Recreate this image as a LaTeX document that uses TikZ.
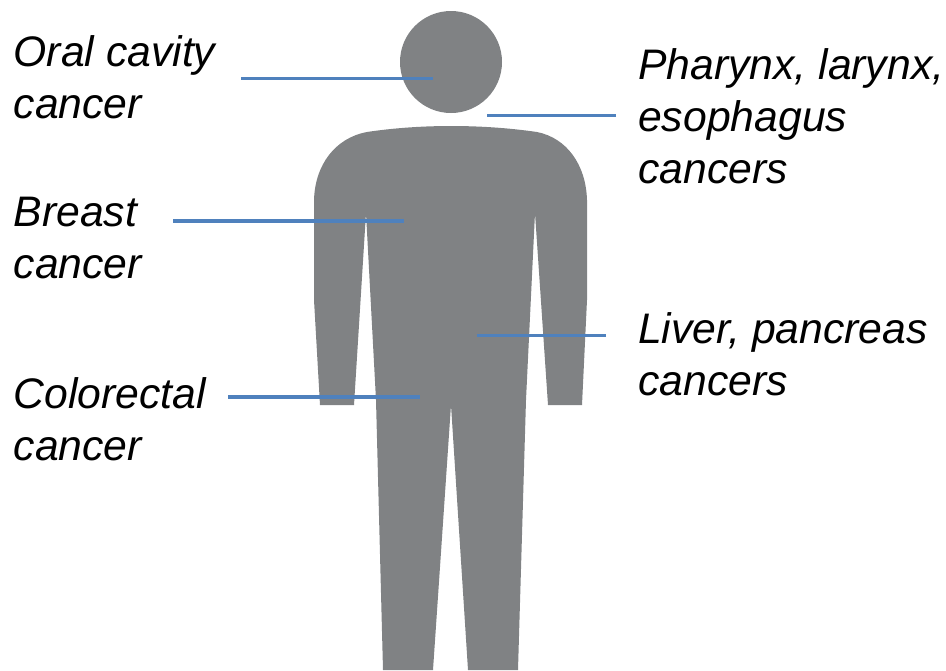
\documentclass[tikz,border=0pt]{standalone}
\usepackage{fontspec}
\setmainfont{Liberation Sans}
\definecolor{body}{RGB}{128,130,132}
\definecolor{leadc}{RGB}{79,129,189}
\tikzset{lbl/.style={font=\fontsize{42.7pt}{52pt}\selectfont\itshape,align=left,anchor=north west,inner sep=0pt,text=black},
lead/.style={draw=leadc,line width=3.6pt}}
\begin{document}
\begin{tikzpicture}[x=1pt,y=-1pt]
\useasboundingbox (0,0) rectangle (946,670);
\fill[body] (451,62) circle (51);
\fill[body] (383,670) -- (376,400) -- (366,213) -- (354,405) -- (320,405) -- (314,300) -- (314,200)
 .. controls (315,165) and (335,138) .. (367,132)
 .. controls (420,124) and (482,124) .. (537,132)
 .. controls (567,138) and (586,165) .. (587,200)
 -- (587,300) -- (582,405) -- (548,405) -- (535,213) -- (526,400) -- (518,670) -- (468,670) -- (451,405) -- (433,670) -- cycle;
\node[lbl] (a) at (13.5,35) {Oral cavity\\cancer};
\node[lbl] (b) at (13.5,197) {Breast\\cancer};
\node[lbl] (c) at (13.5,377) {Colorectal\\cancer};
\node[lbl] (d) at (638,48) {Pharynx, larynx,\\esophagus\\cancers};
\node[lbl] (e) at (638,312) {Liver, pancreas\\cancers};
\coordinate (a1) at (241,78.5); \coordinate (a2) at (433,78.5);
\coordinate (b1) at (173,220.7); \coordinate (b2) at (404,220.7);
\coordinate (c1) at (228,397.2); \coordinate (c2) at (420,397.2);
\coordinate (d1) at (616,115.4); \coordinate (d2) at (487,115.4);
\coordinate (e1) at (606,335.6); \coordinate (e2) at (477,335.6);
\draw[lead] (a1)--(a2);
\draw[lead] (b1)--(b2);
\draw[lead] (c1)--(c2);
\draw[lead] (d1)--(d2);
\draw[lead] (e1)--(e2);
\end{tikzpicture}
\end{document}
